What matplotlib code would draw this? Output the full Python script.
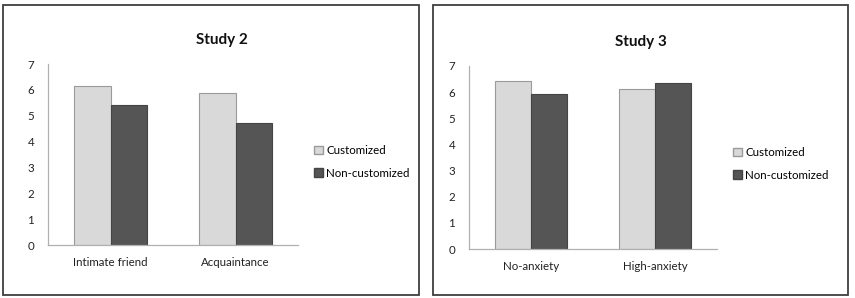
import matplotlib.pyplot as plt
from matplotlib.patches import Rectangle, Patch
import numpy as np

plt.rcParams['font.family'] = ['Lato', 'DejaVu Sans']

series = ["Customized", "Non-customized"]
study2_groups = ["Intimate friend", "Acquaintance"]
study2_custom = [6.15, 5.87]
study2_noncustom = [5.41, 4.70]
study3_groups = ["No-anxiety", "High-anxiety"]
study3_custom = [6.41, 6.12]
study3_noncustom = [5.92, 6.35]

light = "#d9d9d9"
dark = "#555555"
W, H = 855, 298

fig = plt.figure(figsize=(W / 100, H / 100), dpi=100)

def frame(x0, y0, x1, y1):  # outer box around each panel, in pixels
    fig.patches.append(Rectangle((x0 / W, 1 - y1 / H), (x1 - x0) / W, (y1 - y0) / H,
                                 transform=fig.transFigure, fill=False,
                                 edgecolor="#3f3f3f", linewidth=1.3))

def panel(rect, groups, custom, noncustom, title, title_xy, leg_xy):
    ax = fig.add_axes(rect)
    x = np.arange(len(groups))
    w = 0.29
    ax.bar(x - w / 2, custom, w, color=light, edgecolor="#9a9a9a", linewidth=0.8)
    ax.bar(x + w / 2, noncustom, w, color=dark, edgecolor="#444444", linewidth=0.8)
    ax.set_xlim(-0.5, len(groups) - 0.5)
    ax.set_ylim(0, 7)
    ax.set_yticks(range(8))
    ax.set_xticks(x)
    ax.set_xticklabels(groups)
    ax.tick_params(length=0, labelsize=8.3, colors="#222222")
    ax.tick_params(axis="y", pad=10)
    ax.tick_params(axis="x", pad=9)
    for s in ["top", "right"]:
        ax.spines[s].set_visible(False)
    for s in ["left", "bottom"]:
        ax.spines[s].set_color("#b0b0b0")
        ax.spines[s].set_linewidth(0.9)
    fig.text(title_xy[0] / W, 1 - title_xy[1] / H, title, ha="center", va="center",
             fontsize=11, fontweight="bold", color="#111111")
    handles = [Patch(facecolor=light, edgecolor="#9a9a9a", label=series[0]),
               Patch(facecolor=dark, edgecolor="#444444", label=series[1])]
    fig.legend(handles=handles, loc="upper left",
               bbox_to_anchor=(leg_xy[0] / W, 1 - leg_xy[1] / H), frameon=False,
               fontsize=8.3, handlelength=0.75, handleheight=0.75, handletextpad=0.3,
               labelspacing=1.0, borderaxespad=0, borderpad=0)
    return ax

frame(3, 5, 419, 295)
frame(433, 5, 848, 295)

panel([48 / W, 1 - 245 / H, 250 / W, 181 / H], study2_groups, study2_custom,
      study2_noncustom, "Study 2", (222, 40), (314, 145))
panel([469 / W, 1 - 249 / H, 248 / W, 183 / H], study3_groups, study3_custom,
      study3_noncustom, "Study 3", (641, 42), (733, 147))

fig.savefig("out.png", dpi=100)
